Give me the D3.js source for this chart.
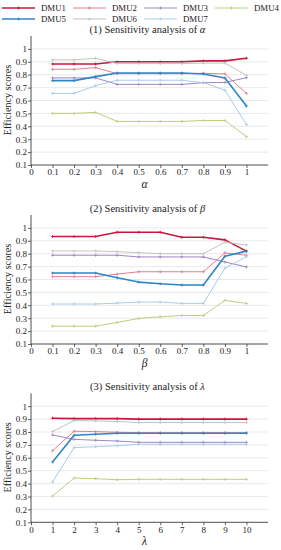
<!DOCTYPE html>
<html><head><meta charset="utf-8">
<script src="https://cdn.jsdelivr.net/npm/d3@7"></script>
<style>body{margin:0;background:#fff}svg{display:block}text{font-family:"Liberation Serif","DejaVu Serif",serif;fill:#222}</style>
</head><body><svg id="c" width="281" height="550"></svg>
<script>
const seriesNames = ["DMU1","DMU2","DMU3","DMU4","DMU5","DMU6","DMU7"];
const colors = ["#c6173f","#e27f8e","#9f86c4","#bccf7d","#2b87c8","#c3c3c3","#a9cce9"];
const widths = [1.6,1,1,1,1.6,1,1];

const alphaX = [0.1,0.2,0.3,0.4,0.5,0.6,0.7,0.8,0.9,1.0];
const alphaDMU1 = [0.883,0.883,0.883,0.9,0.9,0.9,0.9,0.907,0.907,0.927];
const alphaDMU2 = [0.842,0.842,0.855,0.808,0.808,0.808,0.808,0.811,0.806,0.655];
const alphaDMU3 = [0.775,0.775,0.775,0.725,0.725,0.725,0.725,0.738,0.74,0.777];
const alphaDMU4 = [0.5,0.5,0.508,0.438,0.438,0.438,0.438,0.445,0.445,0.32];
const alphaDMU5 = [0.754,0.754,0.785,0.813,0.813,0.813,0.813,0.806,0.775,0.557];
const alphaDMU6 = [0.915,0.915,0.927,0.886,0.886,0.886,0.886,0.89,0.89,0.795];
const alphaDMU7 = [0.655,0.655,0.715,0.757,0.757,0.757,0.757,0.738,0.68,0.413];

const betaX = [0.1,0.2,0.3,0.4,0.5,0.6,0.7,0.8,0.9,1.0];
const betaDMU1 = [0.933,0.933,0.933,0.966,0.966,0.966,0.927,0.927,0.907,0.82];
const betaDMU2 = [0.622,0.622,0.622,0.642,0.66,0.66,0.66,0.66,0.806,0.788];
const betaDMU3 = [0.788,0.788,0.788,0.788,0.775,0.775,0.775,0.775,0.736,0.697];
const betaDMU4 = [0.238,0.238,0.238,0.267,0.298,0.311,0.321,0.321,0.438,0.415];
const betaDMU5 = [0.65,0.65,0.65,0.614,0.58,0.567,0.557,0.557,0.78,0.82];
const betaDMU6 = [0.821,0.821,0.821,0.816,0.808,0.8,0.8,0.8,0.889,0.868];
const betaDMU7 = [0.41,0.41,0.41,0.417,0.425,0.425,0.415,0.415,0.687,0.777];

const lambdaX = [1,2,3,4,5,6,7,8,9,10];
const lambdaDMU1 = [0.907,0.904,0.904,0.904,0.9,0.9,0.9,0.9,0.9,0.9];
const lambdaDMU2 = [0.655,0.806,0.803,0.798,0.795,0.795,0.795,0.795,0.795,0.795];
const lambdaDMU3 = [0.777,0.743,0.736,0.73,0.72,0.72,0.72,0.72,0.72,0.72];
const lambdaDMU4 = [0.303,0.443,0.438,0.43,0.433,0.433,0.433,0.433,0.433,0.433];
const lambdaDMU5 = [0.567,0.775,0.782,0.79,0.79,0.79,0.79,0.79,0.79,0.79];
const lambdaDMU6 = [0.803,0.889,0.886,0.881,0.873,0.873,0.873,0.873,0.873,0.873];
const lambdaDMU7 = [0.412,0.679,0.686,0.694,0.705,0.705,0.705,0.705,0.705,0.705];

const xTicksDec = [0,0.1,0.2,0.3,0.4,0.5,0.6,0.7,0.8,0.9,1];
const xTicksInt = [0,1,2,3,4,5,6,7,8,9,10];
const yTicks = [0.1,0.2,0.3,0.4,0.5,0.6,0.7,0.8,0.9,1];

const panels = [
  {title:"(1) Sensitivity analysis of ", sym:"α", x:alphaX, xmax:1.1, ticks:xTicksDec,
   ys:[alphaDMU1,alphaDMU2,alphaDMU3,alphaDMU4,alphaDMU5,alphaDMU6,alphaDMU7], bottom:165, titleY:32.5},
  {title:"(2) Sensitivity analysis of ", sym:"β", x:betaX, xmax:1.1, ticks:xTicksDec,
   ys:[betaDMU1,betaDMU2,betaDMU3,betaDMU4,betaDMU5,betaDMU6,betaDMU7], bottom:344, titleY:211.5},
  {title:"(3) Sensitivity analysis of ", sym:"λ", x:lambdaX, xmax:11, ticks:xTicksInt,
   ys:[lambdaDMU1,lambdaDMU2,lambdaDMU3,lambdaDMU4,lambdaDMU5,lambdaDMU6,lambdaDMU7], bottom:522.3, titleY:390}
];

const svg = d3.select("#c");
const X0 = 31, X1 = 268;

// legend
const leg = svg.append("g");
seriesNames.forEach((n,i)=>{
  const col = i%4, row = Math.floor(i/4);
  const lx = 2 + col*71, ly = 8 + row*11;
  leg.append("line").attr("x1",lx).attr("x2",lx+33).attr("y1",ly).attr("y2",ly)
    .attr("stroke",colors[i]).attr("stroke-width",widths[i]);
  leg.append("path").attr("d",`M${lx+16.5-1.5},${ly}h3M${lx+16.5},${ly-1.5}v3`).attr("stroke",colors[i]).attr("stroke-width",0.8);
  leg.append("text").attr("x",lx+39).attr("y",ly+3).attr("font-size",8.8).text(n);
});

panels.forEach(p=>{
  const x = d3.scaleLinear().domain([0,p.xmax]).range([X0,X1]);
  const y = d3.scaleLinear().domain([0.1,1.1]).range([p.bottom, p.bottom-129]);
  const g = svg.append("g");
  g.selectAll("line.grid").data(yTicks.slice(1)).enter().append("line")
    .attr("x1",X0).attr("x2",X1).attr("y1",d=>y(d)).attr("y2",d=>y(d))
    .attr("stroke","#e3e3e3").attr("stroke-width",0.8);
  const ya = d3.axisLeft(y).tickValues(yTicks).tickSize(3).tickFormat(d=>d3.format("~g")(d));
  const yg = g.append("g").attr("transform",`translate(${X0},0)`).call(ya);
  const xa = d3.axisBottom(x).tickValues(p.ticks).tickSize(3).tickFormat(d=>d3.format("~g")(d));
  const xg = g.append("g").attr("transform",`translate(0,${p.bottom})`).call(xa);
  [yg,xg].forEach(a=>{
    a.select(".domain").remove();
    a.selectAll(".tick line").attr("stroke","#222").attr("stroke-width",0.7);
    a.selectAll("text").attr("font-size",9).attr("font-family","Liberation Serif, serif").attr("fill","#222");
  });
  g.append("line").attr("x1",X0).attr("x2",X0).attr("y1",y(0.1)).attr("y2",y(1.1)).attr("stroke","#222").attr("stroke-width",0.8);
  g.append("line").attr("x1",X0).attr("x2",X1).attr("y1",y(0.1)).attr("y2",y(0.1)).attr("stroke","#222").attr("stroke-width",0.8);
  yg.selectAll("text").attr("x",-4);
  xg.selectAll("text").attr("y",4);
  const t = svg.append("text").attr("x",(X0+X1)/2-2).attr("y",p.titleY).attr("text-anchor","middle").attr("font-size",10.5);
  t.append("tspan").text(p.title);
  t.append("tspan").attr("font-style","italic").text(p.sym);
  svg.append("text").attr("x",(X0+X1)/2-5).attr("y",p.bottom+23).attr("text-anchor","middle")
    .attr("font-size",11.5).attr("font-style","italic").text(p.sym);
  svg.append("text").attr("transform",`translate(11,${p.bottom-65}) rotate(-90)`).attr("text-anchor","middle")
    .attr("font-size",10.2).text("Efficiency scores");
  const line = d3.line().x((d,i)=>x(p.x[i])).y(d=>y(d));
  p.ys.forEach((vals,k)=>{
    g.append("path").datum(vals).attr("d",line).attr("fill","none")
      .attr("stroke",colors[k]).attr("stroke-width",widths[k]).attr("stroke-linejoin","round");
    g.selectAll(null).data(vals).enter().append("path")
      .attr("d",(d,i)=>`M${x(p.x[i])-1.5},${y(d)}h3M${x(p.x[i])},${y(d)-1.5}v3`)
      .attr("stroke",colors[k]).attr("stroke-width",0.8);
  });
});
</script></body></html>
